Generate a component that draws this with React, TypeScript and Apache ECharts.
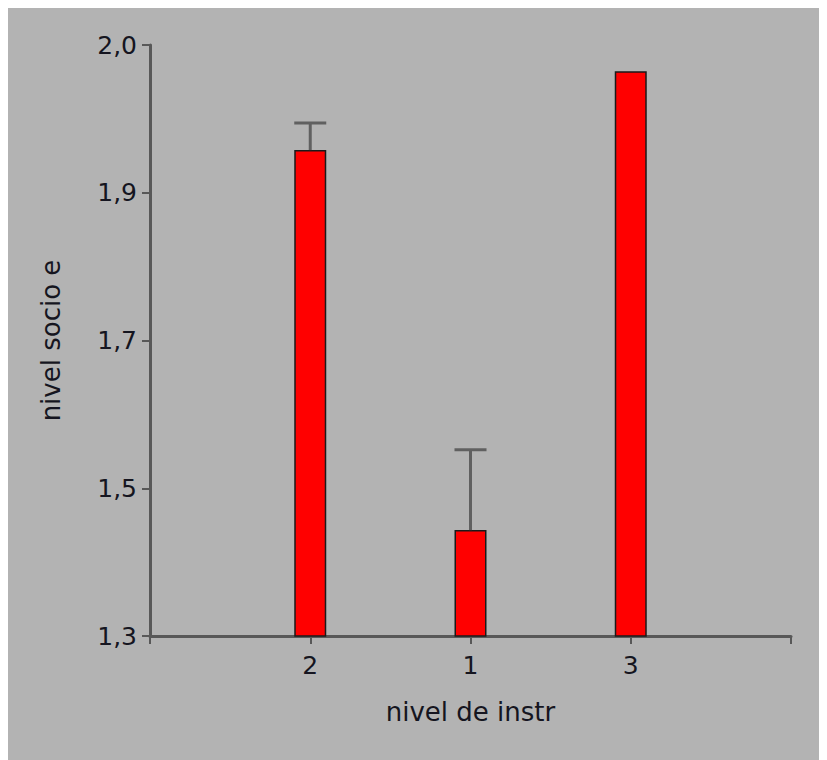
import React, { useEffect, useRef } from "react";
import * as echarts from "echarts";

// Category order as shown on the x axis (empty slots pad both ends)
const categories = ["", "2", "1", "3", ""];
// Bar heights (mean of "nivel socio e")
const barValues: (number | null)[] = [null, 1.912, 1.449, 2.008, null];
// Error bars: [category index, bar top, upper end]
const errorBars: [number, number, number][] = [
  [1, 1.912, 1.945],
  [2, 1.449, 1.547],
];
// Y axis tick positions (labels are shown rounded to one decimal)
const yTicks = [1.32, 1.5, 1.68, 1.86, 2.04];
const yMin = 1.32;
const yMax = 2.04;

const AXIS_COLOR = "#585858";
const FONT = "DejaVu Sans, Liberation Sans, sans-serif";
const TEXT_COLOR = "#151520";

export default function App() {
  const ref = useRef<HTMLDivElement>(null);
  useEffect(() => {
    if (!ref.current) return;
    const chart = echarts.init(ref.current, null, { renderer: "svg" });
    chart.setOption({
      animation: false,
      backgroundColor: "#b3b3b3",
      grid: { left: 142, top: 37, width: 641, height: 591, containLabel: false },
      xAxis: {
        type: "category",
        data: categories,
        boundaryGap: false,
        name: "nivel de instr",
        nameLocation: "middle",
        nameGap: 63,
        nameTextStyle: { fontFamily: FONT, fontSize: 26, color: TEXT_COLOR },
        axisLine: { show: true, lineStyle: { color: AXIS_COLOR, width: 3 } },
        axisTick: { show: true, alignWithLabel: true, length: 8, lineStyle: { color: AXIS_COLOR, width: 2 }, interval: 0 },
        axisLabel: { interval: 0, fontFamily: FONT, fontSize: 25, color: TEXT_COLOR, margin: 17 },
        splitLine: { show: false },
      },
      yAxis: {
        type: "value",
        min: yMin,
        max: yMax,
        name: "nivel socio e",
        nameLocation: "middle",
        nameGap: 86,
        nameTextStyle: { fontFamily: FONT, fontSize: 26, color: TEXT_COLOR },
        axisLine: { show: true, lineStyle: { color: AXIS_COLOR, width: 3 } },
        axisTick: { show: true, length: 8, lineStyle: { color: AXIS_COLOR, width: 2 }, customValues: yTicks },
        axisLabel: {
          fontFamily: FONT,
          fontSize: 25,
          color: TEXT_COLOR,
          margin: 13,
          customValues: yTicks,
          formatter: (v: number) => v.toFixed(1).replace(".", ","),
        },
        splitLine: { show: false },
      },
      series: [
        {
          type: "bar",
          data: barValues,
          barWidth: 32,
          itemStyle: { color: "#ff0000", borderColor: "#1a1a1a", borderWidth: 1.5 },
          z: 2,
        },
        {
          type: "custom",
          data: errorBars,
          z: 3,
          renderItem: (params: any, api: any) => {
            const idx = api.value(0);
            const low = api.coord([idx, api.value(1)]);
            const high = api.coord([idx, api.value(2)]);
            const half = 16;
            const style = { stroke: "#606060", lineWidth: 3 };
            return {
              type: "group",
              children: [
                { type: "line", shape: { x1: low[0], y1: low[1], x2: high[0], y2: high[1] }, style },
                { type: "line", shape: { x1: high[0] - half, y1: high[1], x2: high[0] + half, y2: high[1] }, style },
              ],
            };
          },
        },
      ],
    });
    return () => chart.dispose();
  }, []);
  return <div ref={ref} style={{ width: 819, height: 752 }} />;
}
